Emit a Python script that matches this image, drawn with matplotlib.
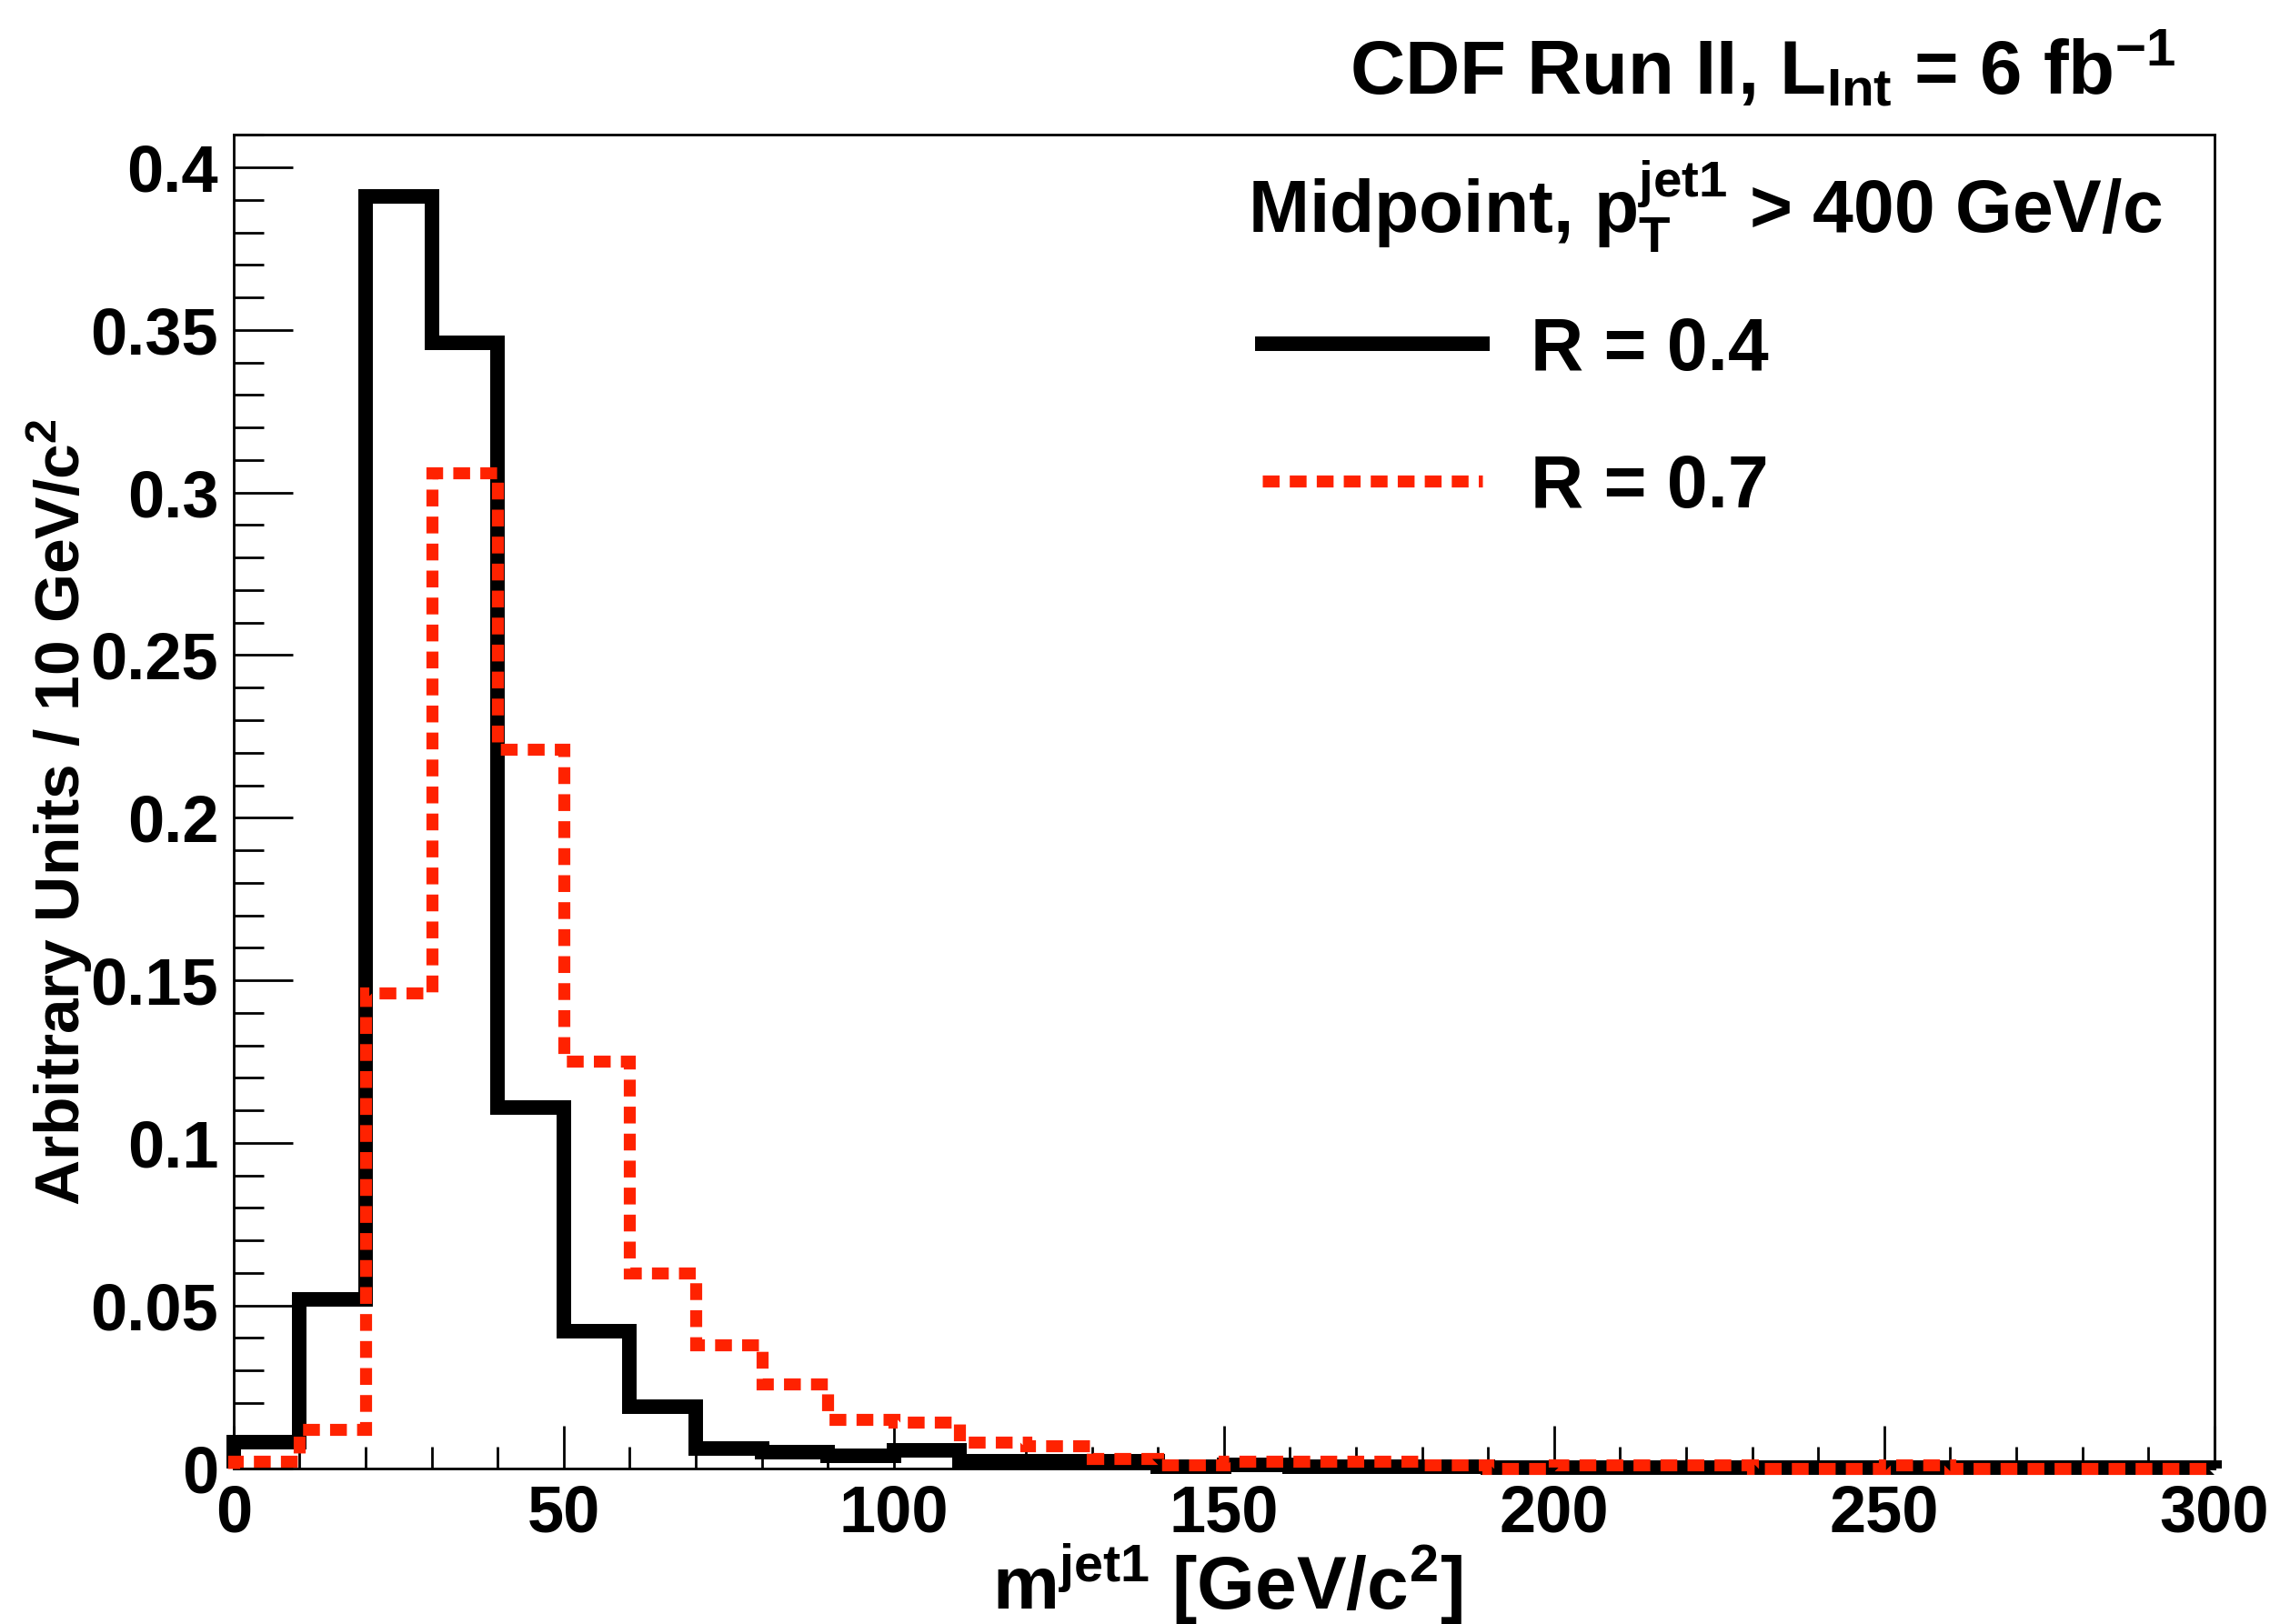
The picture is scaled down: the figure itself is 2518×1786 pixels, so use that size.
import numpy as np
import matplotlib
matplotlib.use("Agg")
import matplotlib.pyplot as plt
from matplotlib.ticker import MultipleLocator

plt.rcParams['font.family'] = ['Liberation Sans', 'DejaVu Sans']
plt.rcParams['font.weight'] = 'bold'
plt.rcParams['mathtext.fontset'] = 'custom'
plt.rcParams['mathtext.rm'] = 'Liberation Sans:bold'
plt.rcParams['mathtext.it'] = 'Liberation Sans:bold'
plt.rcParams['mathtext.bf'] = 'Liberation Sans:bold'
plt.rcParams['mathtext.sf'] = 'Liberation Sans:bold'

# jet mass bins, 10 GeV/c^2 wide
bin_edges = np.arange(0, 310, 10)

# R = 0.4 (black, solid)
r04 = [0.008, 0.052, 0.391, 0.346, 0.111, 0.042, 0.019, 0.006, 0.005, 0.0037,
       0.0055, 0.002, 0.002, 0.002, 0.0005, 0.001, 0.0003, 0.0003, 0.0003, 0.0001,
       0.0001, 0.0001, 0.0001, 0.0001, 0.0001, 0.0001, 0.0001, 0.0001, 0.0001, 0.0001]

# R = 0.7 (red, dashed)
r07 = [0.002, 0.012, 0.146, 0.306, 0.221, 0.125, 0.060, 0.038, 0.026, 0.015,
       0.014, 0.008, 0.007, 0.003, 0.001, 0.002, 0.002, 0.002, 0.001, 0.0,
       0.001, 0.001, 0.001, 0.0, 0.0, 0.001, 0.0, 0.0, 0.0, 0.0]

labels = ['R = 0.4', 'R = 0.7']

fig = plt.figure(figsize=(25.18, 17.86), dpi=100)
ax = fig.add_axes([0.102, 0.096, 0.865, 0.821])

h1 = ax.stairs(r04, bin_edges, color='black', lw=11.5, label=labels[0],
               zorder=3, clip_on=False, joinstyle='miter')
h2 = ax.stairs(r07, bin_edges, color='#ff2200', lw=9.5, ls=(0, (1.4, 0.85)),
               label=labels[1], zorder=4, clip_on=False, capstyle='butt')

ax.set_xlim(0, 300)
ax.set_ylim(0, 0.41)

ax.xaxis.set_major_locator(MultipleLocator(50))
ax.xaxis.set_minor_locator(MultipleLocator(10))
ax.yaxis.set_minor_locator(MultipleLocator(0.01))
ax.set_yticks([0, 0.05, 0.1, 0.15, 0.2, 0.25, 0.3, 0.35, 0.4])
ax.set_yticklabels(['0', '0.05', '0.1', '0.15', '0.2', '0.25', '0.3', '0.35', '0.4'])

ax.tick_params(axis='both', which='both', direction='in', width=2, top=False, right=False)
ax.tick_params(axis='x', which='major', length=34, pad=12, labelsize=52)
ax.tick_params(axis='x', which='minor', length=17)
ax.tick_params(axis='y', which='major', length=47, pad=12, labelsize=52)
ax.tick_params(axis='y', which='minor', length=24)
for s in ax.spines.values():
    s.set_linewidth(2)

fig.text(0.536, 0.0095, r'm$^{jet1}$ [GeV/c$^{2}$]', fontsize=59, ha='center', va='baseline')
fig.text(0.0415, 0.50, r'Arbitrary Units / 10 GeV/c$^{2}$', fontsize=50,
         rotation=90, ha='right', va='center')

fig.text(0.950, 0.942, r'CDF Run II, L$_{Int}$ = 6 fb$^{-1}$', fontsize=60,
         ha='right', va='baseline')
ax.text(0.512, 0.926, r'Midpoint, p$_{T}^{jet1}$ > 400 GeV/c', transform=ax.transAxes,
        fontsize=58, ha='left', va='baseline')

ax.legend(handles=[h1, h2], loc='upper left', bbox_to_anchor=(0.5195, 0.864),
          frameon=False, fontsize=58, borderpad=0, borderaxespad=0,
          handlelength=3.0, handletextpad=0.66, labelspacing=0.93)

fig.savefig('out.png', dpi=100)
